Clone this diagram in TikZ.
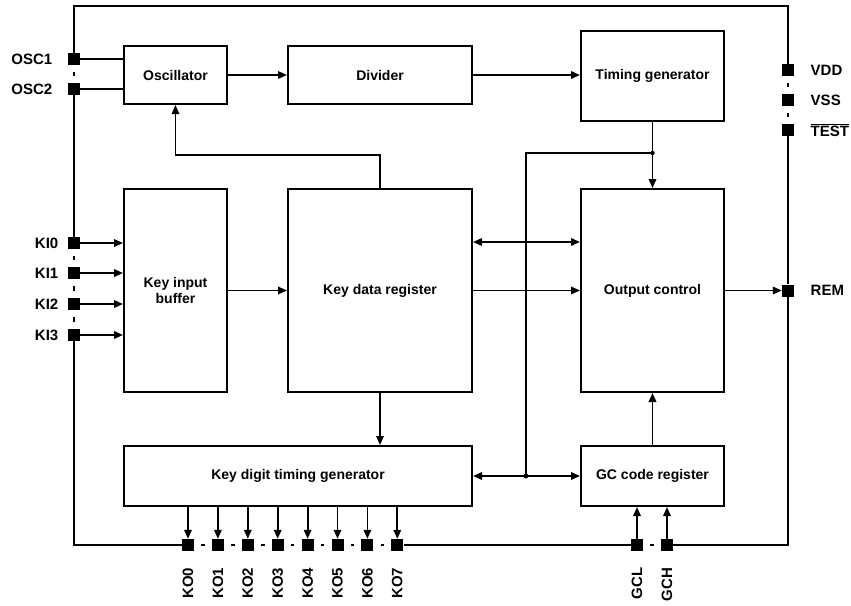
\documentclass[tikz,border=0pt]{standalone}
\usepackage{fontspec}
\setmainfont{Liberation Sans}
\usetikzlibrary{arrows.meta}
\begin{document}
\begin{tikzpicture}[x=1pt, y=-1pt,
    every node/.style={font=\bfseries\fontsize{14}{16}\selectfont},
    every label/.style={font=\bfseries\fontsize{15}{17}\selectfont},
    block/.style={draw, line width=2pt, align=center, inner sep=2pt},
    pin/.style={fill=black, inner sep=0pt, minimum size=12pt},
    pinname/.style={rotate=90, anchor=east, font=\bfseries\fontsize{15}{17}\selectfont},
    wire/.style={line width=1.8pt},
    frame/.style={line width=2pt},
    gap/.style={frame, shorten <=7pt, shorten >=7pt},
    >={Triangle[length=9pt,width=7.5pt]}]
    \useasboundingbox (0,0) rectangle (851,605);

    % Blocs
    \node[block, minimum width=103pt, minimum height=58pt] (osc) at (175.5,75) {Oscillator};
    \node[block, minimum width=184pt, minimum height=58pt] (div) at (380,75) {Divider};
    \node[block, minimum width=143pt, minimum height=90pt] (tg) at (652.5,76) {Timing generator};
    \node[block, minimum width=103pt, minimum height=203pt] (kib) at (175.5,290.5) {Key input\\buffer};
    \node[block, minimum width=184pt, minimum height=203pt] (kdr) at (380,290.5) {Key data register};
    \node[block, minimum width=143pt, minimum height=203pt] (oc) at (652.5,290.5) {Output control};
    \node[block, minimum width=348pt, minimum height=60pt] (kdtg) at (298,476) {Key digit timing generator};
    \node[block, minimum width=143pt, minimum height=60pt] (gc) at (652.5,476) {GC code register};

    % Broches gauche
    \node[pin, label={[label distance=12pt]left:OSC1}] (osc1) at (74,59) {};
    \node[pin, label={[label distance=12pt]left:OSC2}] (osc2) at (74,89) {};
    \foreach \i/\y in {0/243,1/273,2/304,3/335}
        \node[pin, label={[label distance=6pt]left:KI\i}] (ki\i) at (74,\y) {};

    % Broches droite
    \node[pin, label={[label distance=13pt]right:VDD}] (vdd) at (788,70) {};
    \node[pin, label={[label distance=13pt]right:VSS}] (vss) at (788,100) {};
    \node[pin, label={[label distance=13pt]right:$\overline{\mbox{TEST}}$}] (test) at (788,130) {};
    \node[pin, label={[label distance=13pt]right:REM}] (rem) at (788,290.5) {};

    % Broches bas
    \foreach \i in {0,...,7} {
        \node[pin] (ko\i) at (188+29.9*\i,545) {};
        \node[pinname] at ([yshift=-13pt]ko\i.south) {KO\i};
    }
    \node[pin] (gcl) at (637,545) {};
    \node[pinname] at ([yshift=-13pt]gcl.south) {GCL};
    \node[pin] (gch) at (667,545) {};
    \node[pinname] at ([yshift=-13pt]gch.south) {GCH};

    % Cadre
    \coordinate (tl) at (74,6);
    \coordinate (tr) at (788,6);
    \coordinate (bl) at (74,545);
    \coordinate (br) at (788,545);
    \draw[frame] (osc1) -- (tl) -- (tr) -- (vdd);
    \draw[frame] (osc2) -- (ki0);
    \draw[frame] (ki3) -- (bl) -- (ko0);
    \draw[frame] (ko7) -- (gcl);
    \draw[frame] (gch) -- (br) -- (rem) -- (test);
    \foreach \a/\b in {osc1/osc2, ki0/ki1, ki1/ki2, ki2/ki3, vdd/vss, vss/test, gcl/gch}
        \draw[gap] (\a) -- (\b);
    \foreach \i [count=\j from 1] in {0,...,6}
        \draw[gap] (ko\i) -- (ko\j);

    % Liaisons
    \draw[wire] (osc1) -- (osc.west |- osc1);
    \draw[wire] (osc2) -- (osc.west |- osc2);
    \draw[wire,->] (osc) -- (div);
    \draw[wire,->] (div.east) -- (tg.west |- div.east);
    \foreach \i in {0,...,3}
        \draw[wire,->] (ki\i) -- (kib.west |- ki\i);
    \draw[wire,->] (kib) -- (kdr);
    \draw[wire,->] (kdr) -- (oc);
    \draw[wire,->] (oc) -- (rem);

    % Retour vers l'oscillateur
    \coordinate (fb) at (380,155);
    \draw[wire,->] (kdr.north) -- (fb) -| (osc.south);

    % Bus
    \coordinate (bustop) at (526,153);
    \coordinate (busbot) at (526,476);
    \coordinate (duplex) at (526,242);
    \draw[wire,->] (tg) -- (oc);
    \draw[wire] (tg.south |- bustop) -- (bustop) -- (busbot);
    \draw[wire,<->] (kdr.east |- duplex) -- (oc.west |- duplex);
    \draw[wire,<->] (kdtg) -- (gc);
    \fill (busbot) circle (2.4pt);
    \fill (tg.south |- bustop) circle (2.2pt);

    \draw[wire,->] (kdr.south) -- (kdtg.north -| kdr.south);
    \draw[wire,->] (gc) -- (oc);
    \foreach \i in {0,...,7}
        \draw[wire,->] (kdtg.south -| ko\i) -- (ko\i);
    \draw[wire,->] (gcl) -- (gc.south -| gcl);
    \draw[wire,->] (gch) -- (gc.south -| gch);
\end{tikzpicture}
\end{document}
